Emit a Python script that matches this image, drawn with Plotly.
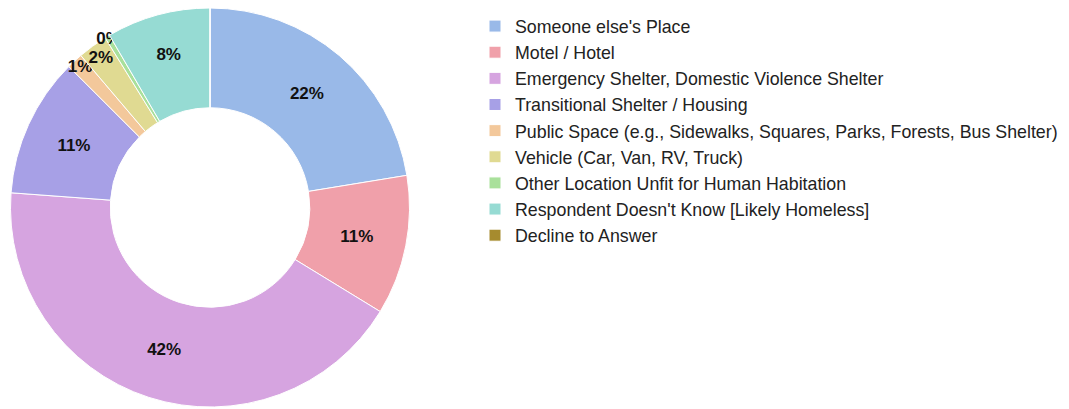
import plotly.graph_objects as go

labels = [
    "Someone else's Place",
    "Motel / Hotel",
    "Emergency Shelter, Domestic Violence Shelter",
    "Transitional Shelter / Housing",
    "Public Space (e.g., Sidewalks, Squares, Parks, Forests, Bus Shelter)",
    "Vehicle (Car, Van, RV, Truck)",
    "Other Location Unfit for Human Habitation",
    "Respondent Doesn't Know [Likely Homeless]",
    "Decline to Answer",
]
shares = [22.4, 11.3, 42.4, 11.3, 1.3, 2.4, 0.4, 8.4, 0]
colors = ["#99b9e8", "#f0a0aa", "#d6a4e0", "#a7a0e6", "#f3c89b",
          "#e0da92", "#a9e09b", "#96dbd3", "#a68b2e"]

# no label on empty slices
templates = ["<b>%{percent:.0%}</b>" if v > 0 else "" for v in shares]

fig = go.Figure(go.Pie(
    labels=labels,
    values=shares,
    hole=0.5,
    sort=False,
    direction="clockwise",
    rotation=0,
    marker=dict(colors=colors, line=dict(color="white", width=1)),
    texttemplate=templates,
    textposition="inside",
    insidetextorientation="horizontal",
    textfont=dict(family="Liberation Sans, Arial", size=17, color="#111"),
    domain=dict(x=[2.5 / 1069, 401.5 / 1069], y=[10 / 409, 409 / 409]),
))

fig.update_layout(
    width=1069,
    height=409,
    margin=dict(l=0, r=0, t=0, b=0),
    paper_bgcolor="white",
    plot_bgcolor="white",
    uniformtext=dict(minsize=17, mode="show"),
    font=dict(family="Liberation Sans, Arial", size=14, color="#222"),
    legend=dict(
        x=467 / 1069, y=1, xanchor="left", yanchor="top",
        font=dict(size=17.8, color="#222"),
        traceorder="normal",
    ),
)

fig.write_html("out.html")
